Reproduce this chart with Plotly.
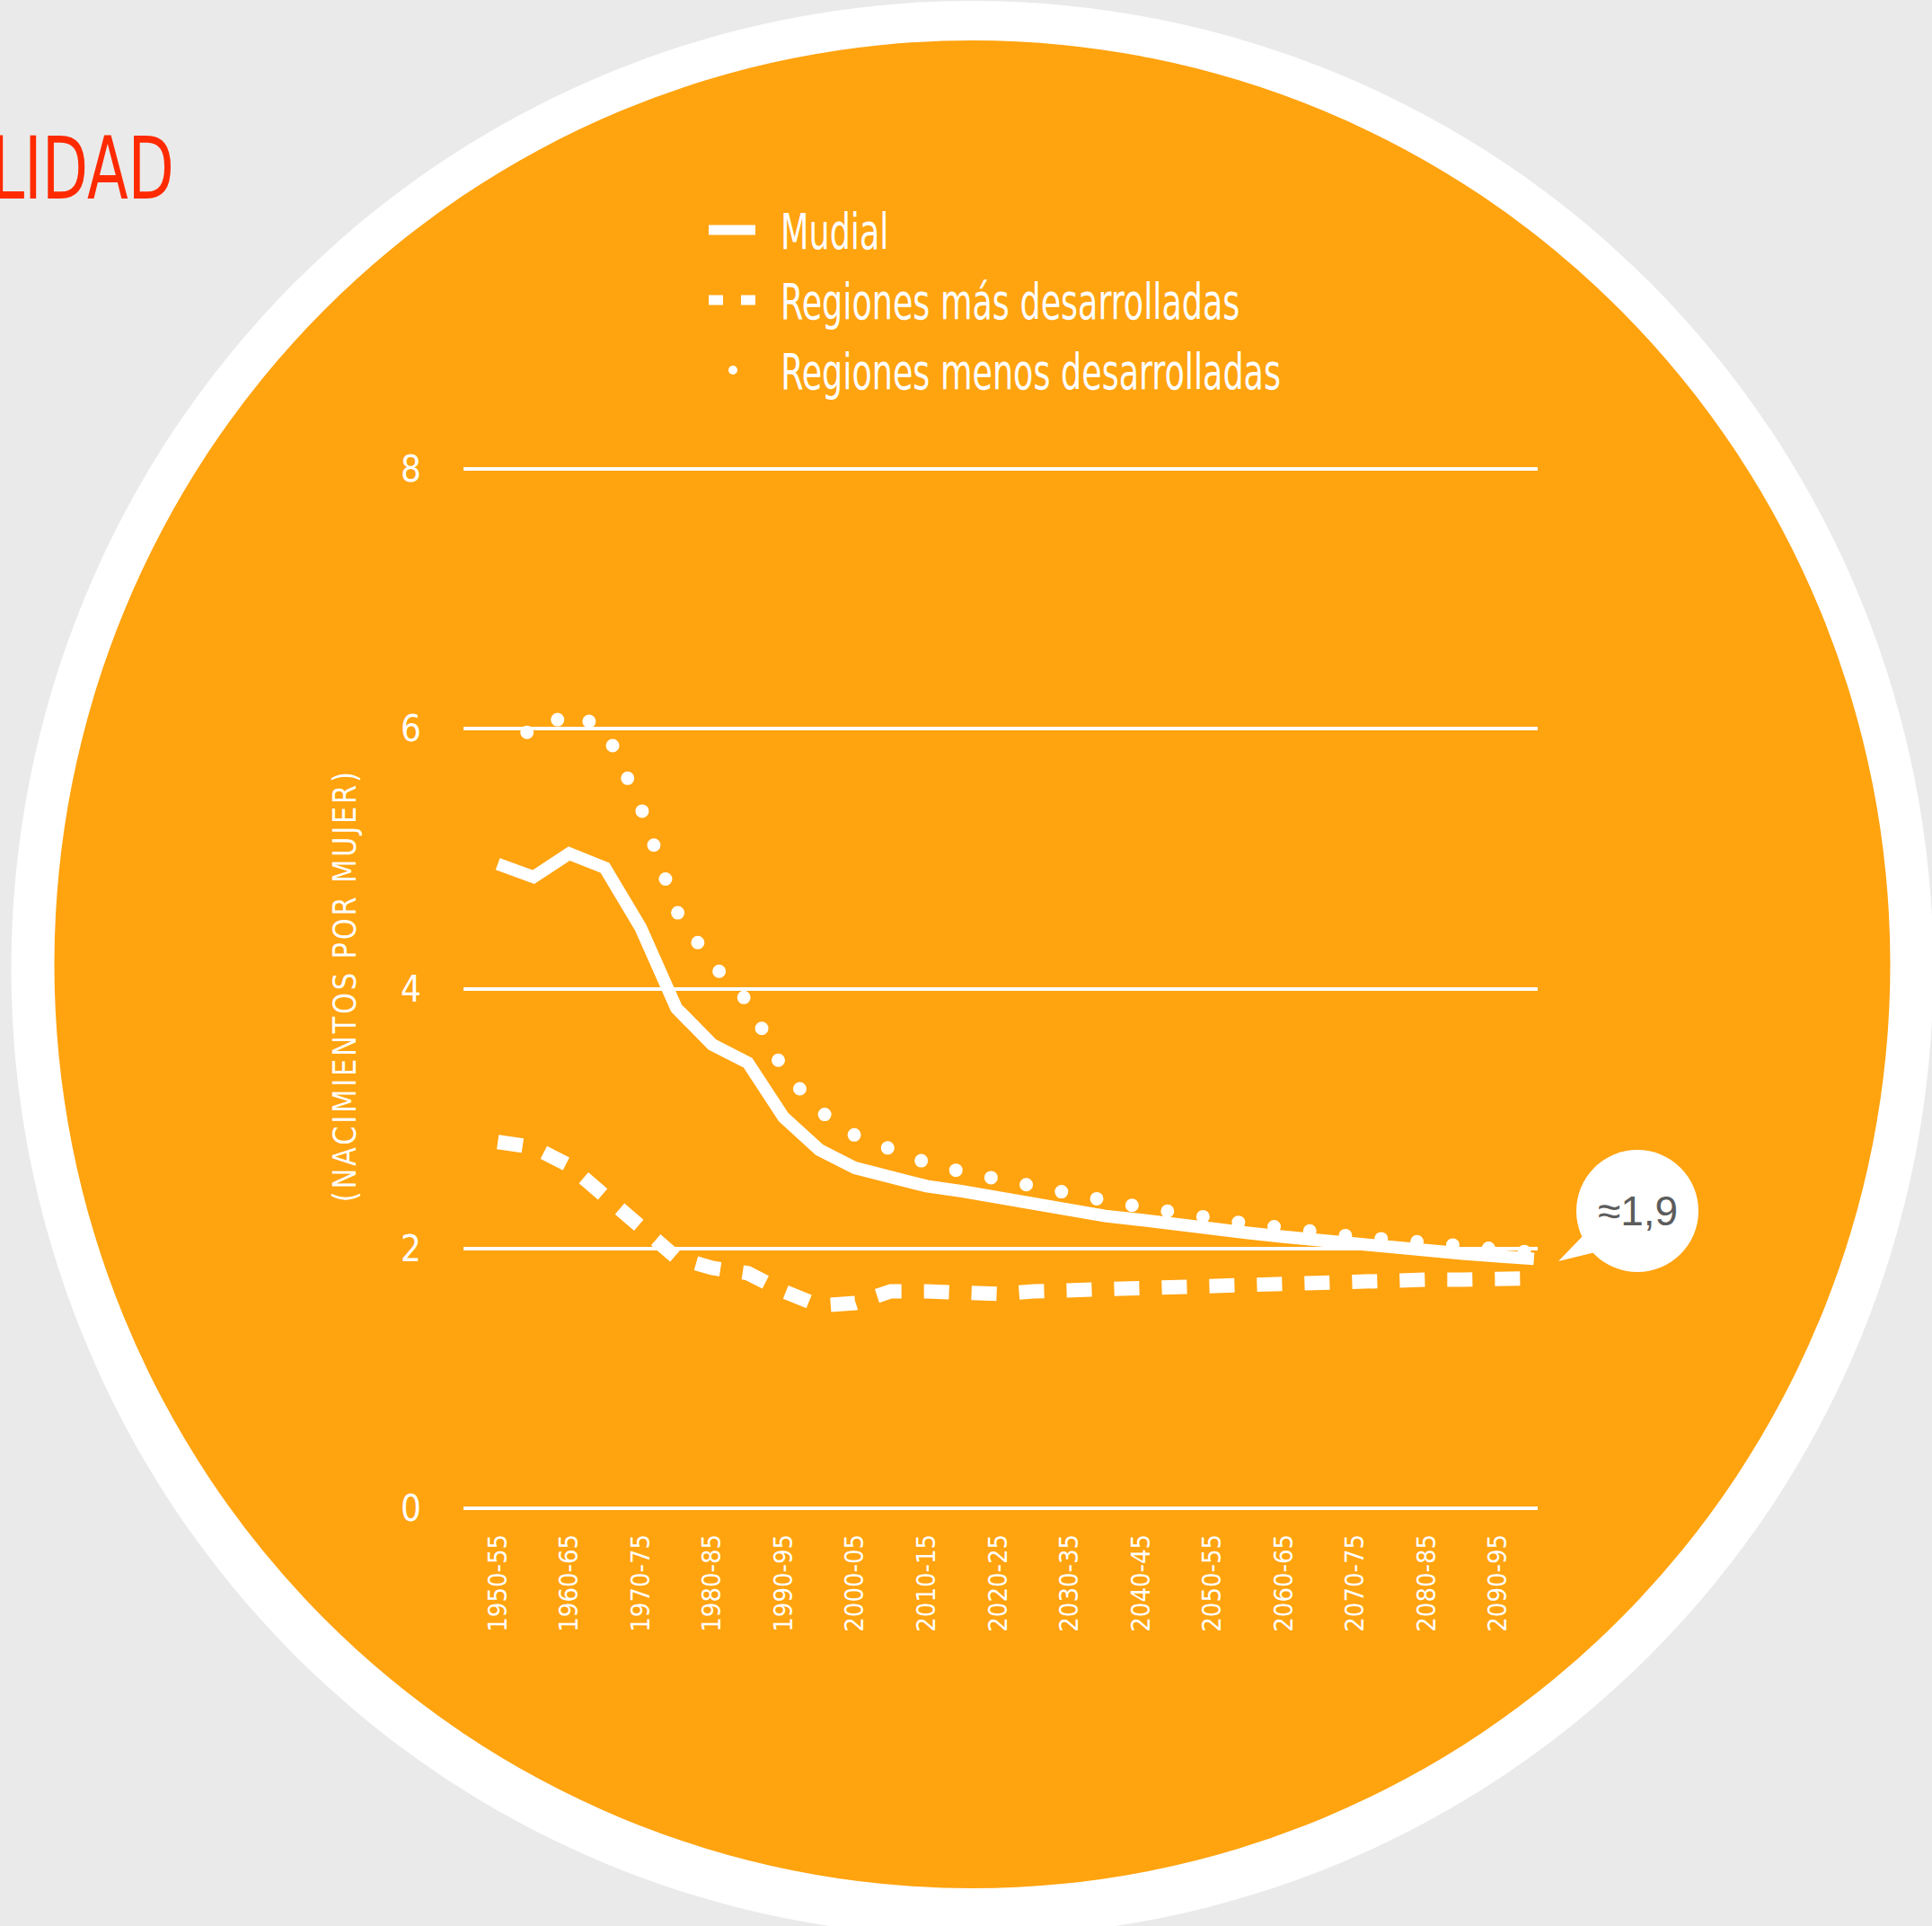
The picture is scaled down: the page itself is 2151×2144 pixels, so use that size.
import json
import plotly.graph_objects as go

# --- data: total fertility rate (births per woman) by five-year period ---
periods = [
    "1950-55", "1955-60", "1960-65", "1965-70", "1970-75", "1975-80",
    "1980-85", "1985-90", "1990-95", "1995-00", "2000-05", "2005-10",
    "2010-15", "2015-20", "2020-25", "2025-30", "2030-35", "2035-40",
    "2040-45", "2045-50", "2050-55", "2055-60", "2060-65", "2065-70",
    "2070-75", "2075-80", "2080-85", "2085-90", "2090-95", "2095-00",
]
tick_periods = [
    "1950-55", "1960-65", "1970-75", "1980-85", "1990-95", "2000-05",
    "2010-15", "2020-25", "2030-35", "2040-45", "2050-55", "2060-65",
    "2070-75", "2080-85", "2090-95",
]
mundial = [4.96, 4.86, 5.04, 4.93, 4.47, 3.85, 3.57, 3.43, 3.01, 2.76,
           2.62, 2.55, 2.48, 2.44, 2.39, 2.35, 2.30, 2.25, 2.22, 2.18,
           2.15, 2.12, 2.09, 2.06, 2.04, 2.01, 1.98, 1.96, 1.94, 1.92]
mas_desarrolladas = [2.82, 2.78, 2.64, 2.41, 2.15, 1.93, 1.85, 1.81, 1.67, 1.56,
                     1.58, 1.67, 1.67, 1.65, 1.65, 1.67, 1.68, 1.69, 1.70, 1.71,
                     1.72, 1.73, 1.73, 1.74, 1.75, 1.75, 1.76, 1.76, 1.77, 1.77]
menos_desarrolladas = [6.08, 5.95, 6.13, 6.00, 5.40, 4.60, 4.19, 3.90, 3.37, 3.06,
                       2.87, 2.76, 2.66, 2.59, 2.53, 2.47, 2.42, 2.37, 2.32, 2.27,
                       2.23, 2.19, 2.16, 2.12, 2.09, 2.07, 2.05, 2.02, 1.99, 1.97]
series_names = ["Mudial", "Regiones más desarrolladas", "Regiones menos desarrolladas"]
y_ticks = [0, 2, 4, 6, 8]
y_title = "(NACIMIENTOS POR MUJER)"
end_label = "≈1,9"
heading = "LIDAD"

# --- styling ---
W, H = 2151, 2144
ORANGE = "#FFA30F"
WHITE = "#FFFFFF"
BG = "#EAEAEA"
RED = "#FF2A00"
GREY_TXT = "#5C5C5C"
COND = "DejaVu Sans Condensed, DejaVu Sans, sans-serif"
REGULAR = "Liberation Sans, Noto Sans, Arial, sans-serif"

# vertical scale: value 0 at y=1679 px, one unit = 144.6 px
Y0_PX, UNIT_PX = 1679, 144.6
PLOT_TOP, PLOT_BOTTOM = 480, 1693

# speech bubble geometry
BUB_X, BUB_Y, BUB_R = 1823, 1348, 68


def fx(x):
    return x / W


def fy(y):
    return 1 - y / H


fig = go.Figure()
fig.add_trace(go.Scatter(x=periods, y=mundial, mode="lines", name=series_names[0],
                         line=dict(color=WHITE, width=14)))
fig.add_trace(go.Scatter(x=periods, y=mas_desarrolladas, mode="lines", name=series_names[1],
                         line=dict(color=WHITE, width=16, dash="28px,25px")))
fig.add_trace(go.Scatter(x=periods, y=menos_desarrolladas, mode="lines", name=series_names[2],
                         line=dict(color=WHITE, width=15, dash="0px,40px")))

shapes = [
    # white ring and orange disc behind the chart
    dict(type="circle", xref="paper", yref="paper", layer="below",
         x0=fx(12.5), x1=fx(2152.5), y0=fy(2156), y1=fy(1),
         fillcolor=WHITE, line=dict(width=0)),
    dict(type="circle", xref="paper", yref="paper", layer="below",
         x0=fx(60.5), x1=fx(2104.5), y0=fy(2102), y1=fy(45),
         fillcolor=ORANGE, line=dict(width=0)),
    # legend keys
    dict(type="line", xref="paper", yref="paper", x0=fx(789), x1=fx(841), y0=fy(256), y1=fy(256),
         line=dict(color=WHITE, width=11)),
    dict(type="line", xref="paper", yref="paper", x0=fx(789), x1=fx(805), y0=fy(334), y1=fy(334),
         line=dict(color=WHITE, width=11)),
    dict(type="line", xref="paper", yref="paper", x0=fx(825), x1=fx(841), y0=fy(334), y1=fy(334),
         line=dict(color=WHITE, width=11)),
    dict(type="circle", xref="paper", yref="paper", x0=fx(811), x1=fx(821), y0=fy(417), y1=fy(407),
         fillcolor=WHITE, line=dict(width=0)),
    # speech bubble for the end value
    dict(type="circle", xref="paper", yref="paper", x0=fx(BUB_X - BUB_R), x1=fx(BUB_X + BUB_R),
         y0=fy(BUB_Y + BUB_R), y1=fy(BUB_Y - BUB_R), fillcolor=WHITE, line=dict(width=0)),
    dict(type="path", xref="paper", yref="paper",
         path=(f"M {fx(BUB_X - 59)},{fy(BUB_Y + 26)} L {fx(BUB_X - 47)},{fy(BUB_Y + 46)} "
               f"L {fx(BUB_X - 88)},{fy(BUB_Y + 56)} Z"),
         fillcolor=WHITE, line=dict(width=0)),
]

annotations = [
    dict(text=heading, xref="paper", yref="paper", x=fx(196), y=fy(188), xanchor="right",
         yanchor="middle", showarrow=False, font=dict(family=COND, size=96, color=RED)),
    dict(text=y_title, xref="paper", yref="paper", x=fx(383), y=fy(1098), textangle=-90,
         xanchor="center", yanchor="middle", showarrow=False,
         font=dict(family=COND, size=36, color=WHITE)),
    dict(text=end_label, xref="paper", yref="paper", x=fx(BUB_X), y=fy(BUB_Y),
         xanchor="center", yanchor="middle", showarrow=False,
         font=dict(family=REGULAR, size=46, color=GREY_TXT)),
]
for name, row_y in zip(series_names, [256, 334, 412]):
    annotations.append(dict(text=name, xref="paper", yref="paper", x=fx(867), y=fy(row_y + 2),
                            xanchor="left", yanchor="middle", showarrow=False,
                            font=dict(family=COND, size=55, color=WHITE)))

y_lo = (Y0_PX - PLOT_BOTTOM) / UNIT_PX
y_hi = (Y0_PX - PLOT_TOP) / UNIT_PX

fig.update_layout(
    width=W, height=H,
    margin=dict(l=0, r=0, t=0, b=0),
    paper_bgcolor=BG,
    plot_bgcolor="rgba(0,0,0,0)",
    showlegend=False,
    shapes=shapes,
    annotations=annotations,
    xaxis=dict(
        type="category", domain=[fx(516), fx(1712)], range=[-0.96, 29.105],
        tickmode="array", tickvals=tick_periods, ticktext=tick_periods,
        tickangle=-90, tickfont=dict(family=COND, size=29, color=WHITE),
        showgrid=False, zeroline=False, showline=False, ticks="", ticklabelstandoff=8,
        automargin=False,
    ),
    yaxis=dict(
        domain=[fy(PLOT_BOTTOM), fy(PLOT_TOP)], range=[y_lo, y_hi],
        tickmode="array", tickvals=y_ticks,
        tickfont=dict(family=COND, size=40, color=WHITE),
        showgrid=True, gridcolor=WHITE, gridwidth=3.5,
        zeroline=False, showline=False, ticks="", ticklabelstandoff=46,
        automargin=False,
    ),
)

# Condensed look for the headline, legend labels and axis title: each text is
# narrowed horizontally to a target width (px).
narrow_targets = {
    heading: [204, "right center"],
    series_names[2]: [557, "left center"],
    y_title: [482, "center center"],
}
post = """
var gd = document.querySelector('.js-plotly-plot');
var targets = %s;
var legendNames = %s;
var yTitle = %s;
if (gd) {
  var tr = gd.querySelectorAll('.scatterlayer .trace');
  if (tr.length > 2) {
    var p = tr[2].querySelector('path.js-line');
    if (p) { p.style.strokeLinecap = 'round'; p.style.strokeDashoffset = '4px'; }
  }
  var texts = Array.prototype.slice.call(gd.querySelectorAll('.annotation-text'));
  function squeeze(t, s, origin) {
    t.style.transformBox = 'fill-box';
    t.style.transformOrigin = origin;
    t.style.transform = 'scaleX(' + s + ')';
  }
  var legendScale = 1;
  texts.forEach(function (t) {
    var key = t.textContent;
    if (key === yTitle) { t.style.letterSpacing = '3px'; }
    if (targets[key]) {
      var w = (key === yTitle) ? t.getComputedTextLength() : t.getBBox().width;
      var s = targets[key][0] / w;
      if (legendNames.indexOf(key) >= 0) { legendScale = s; }
      else { squeeze(t, Math.min(s, 1.2), targets[key][1]); }
    }
  });
  texts.forEach(function (t) {
    if (legendNames.indexOf(t.textContent) >= 0) { squeeze(t, legendScale, 'left center'); }
  });
}
""" % (json.dumps(narrow_targets, ensure_ascii=False),
       json.dumps(series_names, ensure_ascii=False),
       json.dumps(y_title, ensure_ascii=False))

fig.write_html("out.html", post_script=post)
